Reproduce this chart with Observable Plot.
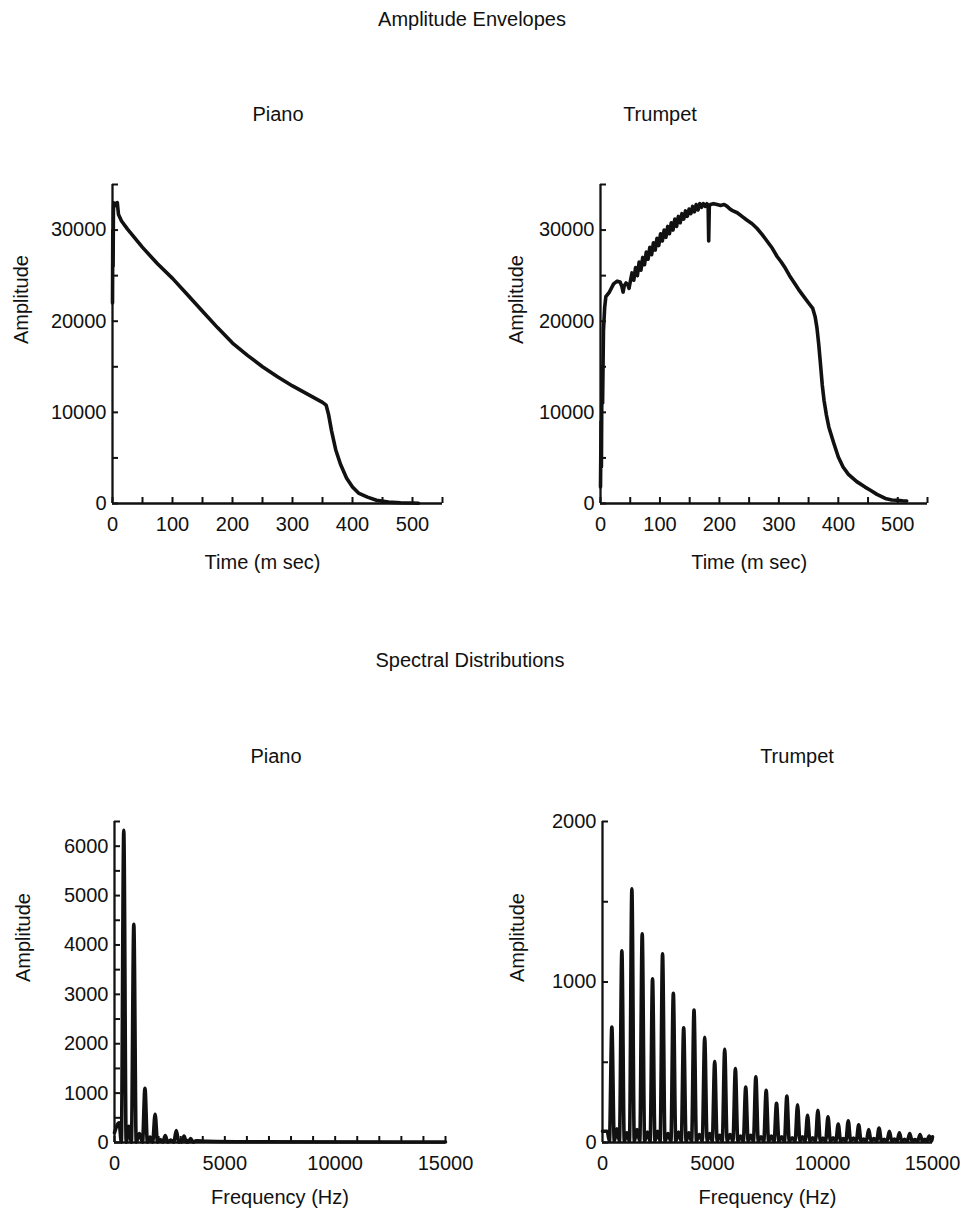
<!DOCTYPE html>
<html>
<head>
<meta charset="utf-8">
<script src="https://cdn.jsdelivr.net/npm/d3@7"></script>
<script src="https://cdn.jsdelivr.net/npm/@observablehq/plot@0.6"></script>
<style>
  html, body { margin: 0; padding: 0; background: #fff; }
  #root { position: relative; width: 960px; height: 1218px; overflow: hidden;
          font-family: "Liberation Sans", Arial, Helvetica, sans-serif; color: #111; }
  .title { position: absolute; font-size: 20px; line-height: 20px; white-space: nowrap; transform: translateX(-50%); }
  .panel { position: absolute; }
</style>
</head>
<body>
<div id="root"></div>
<script>
// ---------------- Data ----------------
// Amplitude envelope, piano
const pianoEnvTime = [0, 0.5, 1, 1.5, 2, 3, 5, 8, 10, 15, 25, 50, 75, 100, 125, 150, 175, 200, 225, 250,
  275, 300, 325, 350, 356, 360, 365, 372, 380, 390, 400, 410, 425, 440, 460, 480, 500, 510];
const pianoEnvAmp = [22000, 30000, 26000, 32000, 33000, 32600, 32900, 33000, 31700, 31000, 30100, 28100, 26300, 24700, 22900, 21100, 19300, 17600, 16250, 15000,
  13900, 12900, 12000, 11100, 10800, 9800, 8000, 5900, 4300, 2800, 1800, 1150, 700, 350, 150, 80, 50, 30];

// Amplitude envelope, trumpet
const trumpetEnvTime = [0, 1, 1.5, 2.5, 3.5, 5, 7, 9, 15, 22,
  28, 33, 36, 38, 40, 43, 46, 48, 50, 53,
  56, 59, 62, 65, 68, 71, 74, 77, 80, 83,
  86, 89, 92, 95, 98, 101, 104, 107, 110, 113,
  116, 119, 122, 125, 128, 131, 134, 137, 140, 143,
  146, 149, 152, 155, 158, 161, 164, 167, 170, 173,
  176, 179, 181, 182, 183, 185, 190, 196, 202, 208,
  213, 218, 223, 230, 238, 246, 255, 263, 272, 280,
  289, 297, 304, 311, 318, 325, 333, 342, 350, 357,
  361, 364, 367, 370, 373, 376, 380, 384, 392, 400,
  408, 417, 431, 445, 454, 465, 479, 490, 499, 508, 515];
const trumpetEnvAmp = [1800, 9000, 4000, 15000, 11000, 19000, 21500, 22700, 23200, 24100,
  24400, 24300, 23800, 23200, 23900, 24200, 24000, 23600, 24300, 25300,
  24500, 25900, 25000, 26500, 25600, 27000, 26200, 27600, 26800, 28100,
  27300, 28600, 27800, 29100, 28300, 29600, 28800, 30000, 29200, 30400,
  29600, 30800, 30000, 31200, 30400, 31500, 30800, 31800, 31200, 32100,
  31500, 32300, 31800, 32600, 32000, 32800, 32200, 32900, 32500, 32900,
  32600, 32900, 32700, 28800, 32600, 32800, 32900, 32800, 32700, 32800,
  32600, 32300, 32100, 31900, 31500, 31100, 30700, 30200, 29500, 28800,
  28000, 27100, 26500, 25800, 25000, 24300, 23500, 22700, 22000, 21400,
  20500, 19300, 17500, 15300, 13000, 11300, 9700, 8400, 6700, 5100,
  4000, 3200, 2400, 1800, 1450, 1000, 550, 380, 350, 300, 280];

// Spectrum, piano: harmonic peaks, side-lobe humps before each peak, tail
const pianoPeakHz  = [420, 875, 1380, 1840, 2300, 2800, 3150, 3450];
const pianoPeakAmp = [6320, 4420, 1100, 570, 140, 240, 130, 80];
const pianoHumpAmp = [400, 330, 180, 110, 60, 50, 45, 40];
const pianoStartAmp = 200;
const pianoTailHz  = [3700, 4200, 6000, 15000];
const pianoTailAmp = [35, 25, 15, 10];

// Spectrum, trumpet
const trumpetPeakHz  = [425, 880, 1335, 1805, 2275, 2730, 3220, 3690, 4160, 4645,
  5100, 5555, 6040, 6510, 6970, 7440, 7910, 8380, 8865, 9320,
  9790, 10250, 10715, 11170, 11645, 12100, 12570, 13040, 13495, 13965, 14435, 14850];
const trumpetPeakAmp = [720, 1195, 1580, 1300, 1020, 1175, 930, 715, 825, 655,
  505, 580, 460, 345, 410, 325, 245, 290, 235, 170,
  200, 160, 115, 135, 110, 80, 90, 70, 60, 55, 50, 40];
const trumpetHumpAmp = [70, 85, 60, 80, 65, 70, 55, 65, 60, 50,
  55, 45, 50, 40, 45, 35, 40, 35, 30, 35,
  30, 28, 30, 25, 28, 22, 25, 20, 22, 20, 18, 20];
const trumpetStartAmp = 70;
const trumpetTailHz  = [15000];
const trumpetTailAmp = [35];
const spectrumNullAmp = 8;

// Ticks
const envTimeTicks  = [0, 50, 100, 150, 200, 250, 300, 350, 400, 450, 500, 550];
const envTimeLabels = [0, 100, 200, 300, 400, 500];
const envAmpTicks   = [0, 5000, 10000, 15000, 20000, 25000, 30000, 35000];
const envAmpLabels  = [0, 10000, 20000, 30000];
const specHzTicks   = [0, 1000, 2000, 3000, 4000, 5000, 6000, 7000, 8000, 9000, 10000, 11000, 12000, 13000, 14000, 15000];
const specHzLabels  = [0, 5000, 10000, 15000];
const pianoSpecAmpTicks  = [0, 500, 1000, 1500, 2000, 2500, 3000, 3500, 4000, 4500, 5000, 5500, 6000, 6500];
const pianoSpecAmpLabels = [0, 1000, 2000, 3000, 4000, 5000, 6000];
const trumpetSpecAmpTicks  = [0, 500, 1000, 1500, 2000];
const trumpetSpecAmpLabels = [0, 1000, 2000];

// ---------------- Build tables ----------------
const pianoEnv = pianoEnvTime.map((t, i) => ({t, a: pianoEnvAmp[i]}));
const trumpetEnv = trumpetEnvTime.map((t, i) => ({t, a: trumpetEnvAmp[i]}));

const NULL_OFFSET_HZ = 110; // half-width of each spectral line's main lobe
function spectrum(peakHz, peakAmp, humpAmp, startAmp, tailHz, tailAmp) {
  const pts = [{f: 0, a: startAmp}];
  let prev = 0;
  peakHz.forEach((f, i) => {
    pts.push({f: (prev + f) / 2, a: humpAmp[i]});
    pts.push({f: f - NULL_OFFSET_HZ, a: spectrumNullAmp});
    pts.push({f, a: peakAmp[i]});
    pts.push({f: f + NULL_OFFSET_HZ, a: spectrumNullAmp});
    prev = f;
  });
  tailHz.forEach((f, i) => pts.push({f, a: tailAmp[i]}));
  return pts;
}
const pianoSpec = spectrum(pianoPeakHz, pianoPeakAmp, pianoHumpAmp, pianoStartAmp, pianoTailHz, pianoTailAmp);
const trumpetSpec = spectrum(trumpetPeakHz, trumpetPeakAmp, trumpetHumpAmp, trumpetStartAmp, trumpetTailHz, trumpetTailAmp);

// ---------------- Drawing ----------------
const FONT = '"Liberation Sans", Arial, Helvetica, sans-serif';
const INK = "#111";
const root = document.getElementById("root");

function addTitle(text, cx, cy) {
  const d = document.createElement("div");
  d.className = "title";
  d.textContent = text;
  d.style.left = cx + "px";
  d.style.top = (cy - 10) + "px";
  root.appendChild(d);
}

function panel(cfg) {
  const svg = Plot.plot({
    width: cfg.width, height: cfg.height,
    marginLeft: cfg.mL, marginRight: cfg.mR, marginTop: cfg.mT, marginBottom: cfg.mB,
    style: {fontFamily: FONT, fontSize: "20px", color: INK, background: "transparent", overflow: "visible"},
    x: {domain: cfg.xDomain, label: null},
    y: {domain: cfg.yDomain, label: null},
    marks: [
      Plot.ruleX([0], {stroke: INK, strokeWidth: 2.3}),
      Plot.ruleY([0], {stroke: INK, strokeWidth: 2.3}),
      cfg.xTicks.length ? Plot.axisX(cfg.xTicks, {tickSize: -6, fill: "none", stroke: INK, strokeWidth: 2, label: null}) : null,
      Plot.axisX(cfg.xLabels, {tickSize: 0, tickPadding: 13, tickFormat: "d", fill: INK, fontSize: 20, label: null}),
      Plot.axisY(cfg.yTicks, {tickSize: -6, fill: "none", stroke: INK, strokeWidth: 2, label: null}),
      Plot.axisY(cfg.yLabels, {tickSize: 0, tickPadding: 6, tickFormat: "d", fill: INK, fontSize: 20, label: null}),
      Plot.line(cfg.data, {x: cfg.x, y: "a", stroke: INK, strokeWidth: 3.6, curve: cfg.curve, strokeLinejoin: "round", strokeLinecap: "round"}),
      Plot.text([cfg.xTitle], {x: cfg.xTitleAt, frameAnchor: "bottom", dy: cfg.xTitleDy, fontSize: 20, fill: INK}),
      Plot.text(["Amplitude"], {frameAnchor: "left", rotate: -90, dx: cfg.yTitleDx, fontSize: 20, fill: INK})
    ]
  });
  const wrap = document.createElement("div");
  wrap.className = "panel";
  wrap.style.left = cfg.left + "px";
  wrap.style.top = cfg.top + "px";
  wrap.style.width = cfg.width + "px";
  wrap.appendChild(svg);
  root.appendChild(wrap);
}

addTitle("Amplitude Envelopes", 472, 19);
addTitle("Piano", 278, 114);
addTitle("Trumpet", 660, 114);
addTitle("Spectral Distributions", 470, 660);
addTitle("Piano", 276, 756);
addTitle("Trumpet", 797, 756);

panel({left: 0, top: 160, width: 470, height: 440, mL: 112, mR: 28, mT: 24, mB: 97,
  xDomain: [0, 550], yDomain: [0, 35000], xTicks: envTimeTicks, xLabels: envTimeLabels,
  yTicks: envAmpTicks, yLabels: envAmpLabels, data: pianoEnv, x: "t", curve: "linear",
  xTitle: "Time (m sec)", xTitleAt: 250, xTitleDy: 65, yTitleDx: -91});

panel({left: 490, top: 160, width: 470, height: 440, mL: 110, mR: 33, mT: 24, mB: 97,
  xDomain: [0, 550], yDomain: [0, 35000], xTicks: envTimeTicks, xLabels: envTimeLabels,
  yTicks: envAmpTicks, yLabels: envAmpLabels, data: trumpetEnv, x: "t", curve: "linear",
  xTitle: "Time (m sec)", xTitleAt: 250, xTitleDy: 65, yTitleDx: -84});

panel({left: 0, top: 790, width: 470, height: 428, mL: 114, mR: 25, mT: 31, mB: 76,
  xDomain: [0, 15000], yDomain: [0, 6500], xTicks: specHzTicks, xLabels: specHzLabels,
  yTicks: pianoSpecAmpTicks, yLabels: pianoSpecAmpLabels, data: pianoSpec, x: "f", curve: "monotone-x",
  xTitle: "Frequency (Hz)", xTitleAt: undefined, xTitleDy: 61, yTitleDx: -91});

panel({left: 490, top: 790, width: 470, height: 428, mL: 112, mR: 28, mT: 31, mB: 76,
  xDomain: [0, 15000], yDomain: [0, 2000], xTicks: [], xLabels: specHzLabels,
  yTicks: trumpetSpecAmpTicks, yLabels: trumpetSpecAmpLabels, data: trumpetSpec, x: "f", curve: "monotone-x",
  xTitle: "Frequency (Hz)", xTitleAt: undefined, xTitleDy: 61, yTitleDx: -85});
</script>
</body>
</html>
